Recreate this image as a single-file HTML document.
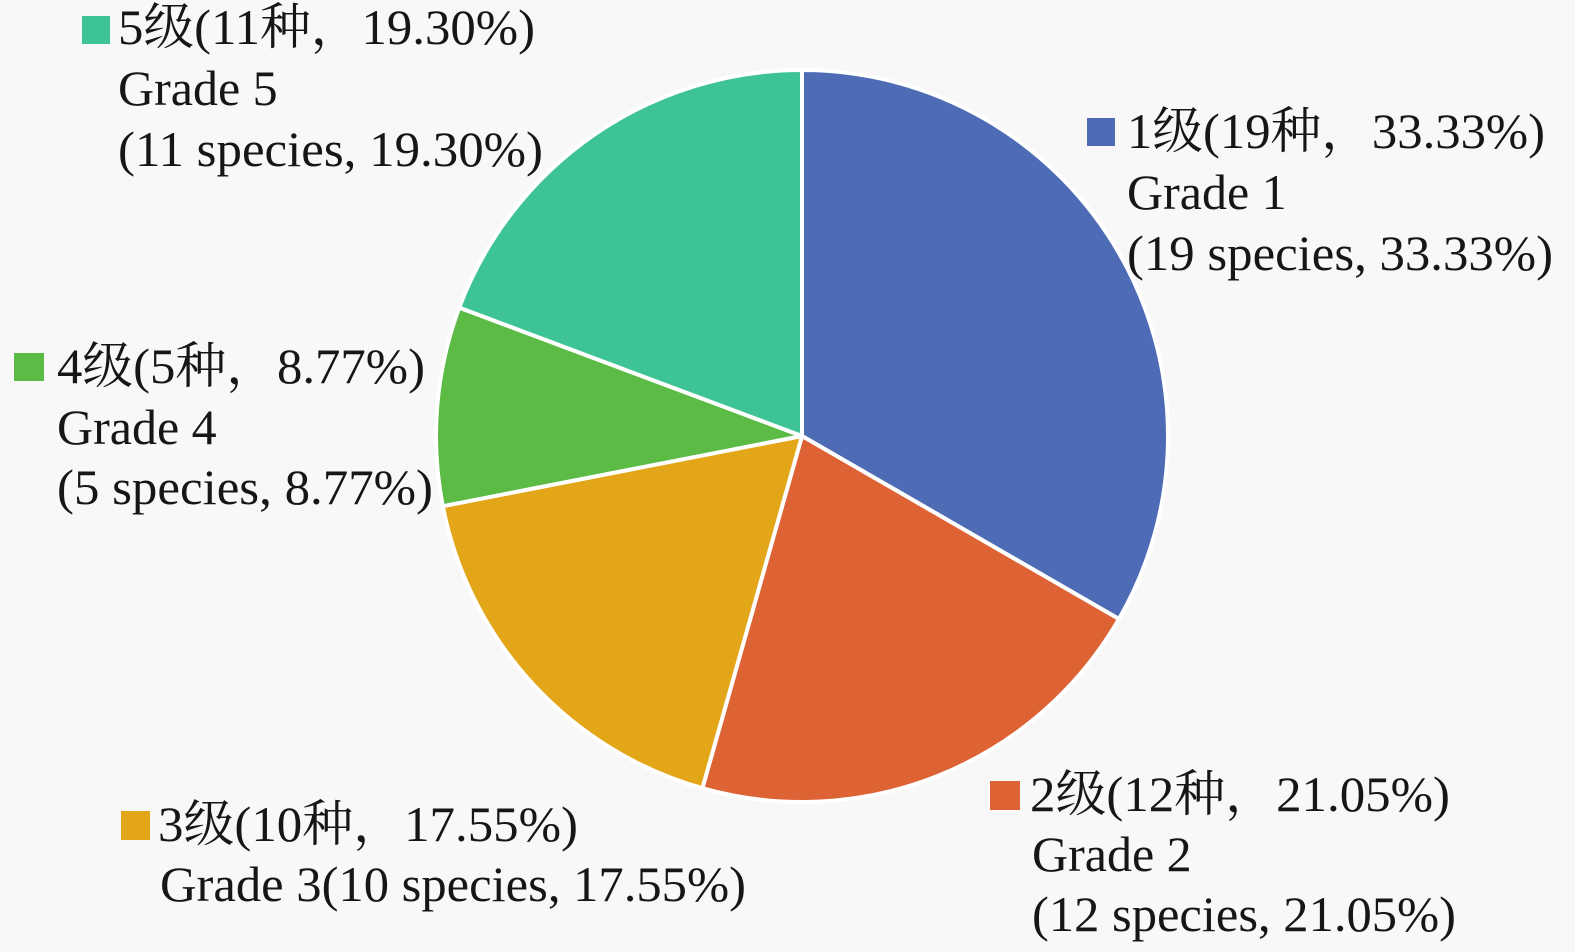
<!DOCTYPE html>
<html>
<head>
<meta charset="utf-8">
<style>
  html,body{margin:0;padding:0;background:#f8f8f8;}
  svg{display:block;}
  .t{font-family:"Liberation Serif","Times New Roman",Times,"Noto Serif CJK SC",serif;font-size:50px;fill:#161616;}
</style>
</head>
<body>
<svg width="1575" height="952" viewBox="0 0 1575 952" xmlns="http://www.w3.org/2000/svg">
  <rect x="0" y="0" width="1575" height="952" fill="#f8f8f8"/>
  <g stroke="#ffffff" stroke-width="4" stroke-linejoin="round">
    <path d="M802,436 L802,70 A366,366 0 0 1 1118.97,619 Z" fill="#4e6bb6"/>
    <path d="M802,436 L1118.97,619 A366,366 0 0 1 702.4,788.2 Z" fill="#dd6234"/>
    <path d="M802,436 L702.4,788.2 A366,366 0 0 1 442.8,506.2 Z" fill="#e3a618"/>
    <path d="M802,436 L442.8,506.2 A366,366 0 0 1 459.25,307.65 Z" fill="#5bbb45"/>
    <path d="M802,436 L459.25,307.65 A366,366 0 0 1 802,70 Z" fill="#3dc394"/>
  </g>

  <g class="t" font-family="Liberation Serif, Times New Roman, Noto Serif CJK SC, serif" font-size="50">
  <!-- Grade 5 label -->
  <rect x="82" y="16" width="28" height="28" fill="#3dc394"/>
  <text class="t" x="118" y="44" textLength="417" lengthAdjust="spacingAndGlyphs">5级(11种，19.30%)</text>
  <text class="t" x="118" y="105">Grade 5</text>
  <text class="t" x="118" y="166" textLength="425" lengthAdjust="spacingAndGlyphs">(11 species, 19.30%)</text>

  <!-- Grade 1 label -->
  <rect x="1087" y="118" width="28" height="28" fill="#4e6bb6"/>
  <text class="t" x="1127" y="148" textLength="418" lengthAdjust="spacingAndGlyphs">1级(19种，33.33%)</text>
  <text class="t" x="1127" y="209">Grade 1</text>
  <text class="t" x="1127" y="270" textLength="426" lengthAdjust="spacingAndGlyphs">(19 species, 33.33%)</text>

  <!-- Grade 4 label -->
  <rect x="14" y="353" width="30" height="28" fill="#5bbb45"/>
  <text class="t" x="57" y="383" textLength="368" lengthAdjust="spacingAndGlyphs">4级(5种，8.77%)</text>
  <text class="t" x="57" y="444">Grade 4</text>
  <text class="t" x="57" y="504" textLength="376" lengthAdjust="spacingAndGlyphs">(5 species, 8.77%)</text>

  <!-- Grade 3 label -->
  <rect x="121" y="811" width="29" height="29" fill="#e3a618"/>
  <text class="t" x="158" y="841" textLength="420" lengthAdjust="spacingAndGlyphs">3级(10种，17.55%)</text>
  <text class="t" x="160" y="901" textLength="586" lengthAdjust="spacingAndGlyphs">Grade 3(10 species, 17.55%)</text>

  <!-- Grade 2 label -->
  <rect x="990" y="781" width="30" height="29" fill="#dd6234"/>
  <text class="t" x="1030" y="811" textLength="420" lengthAdjust="spacingAndGlyphs">2级(12种，21.05%)</text>
  <text class="t" x="1032" y="871">Grade 2</text>
  <text class="t" x="1032" y="931" textLength="424" lengthAdjust="spacingAndGlyphs">(12 species, 21.05%)</text>
  </g>
</svg>
</body>
</html>
